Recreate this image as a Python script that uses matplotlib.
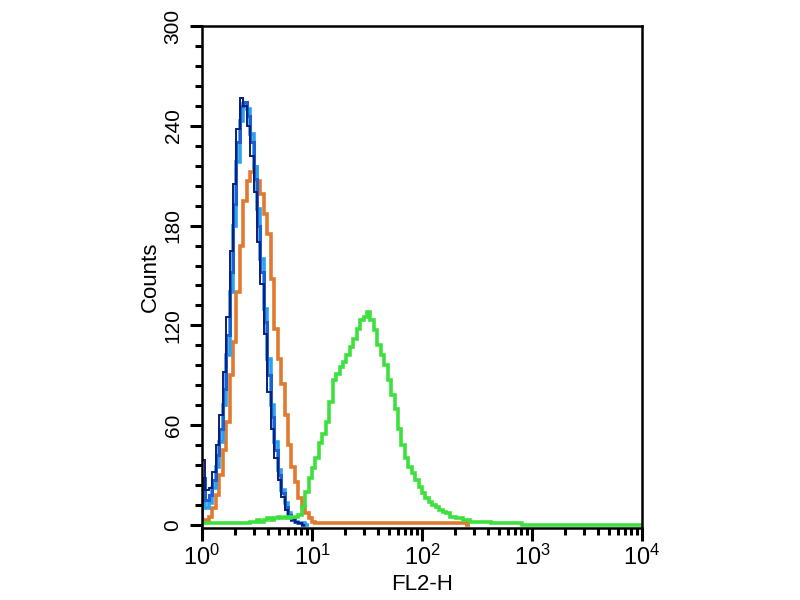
import numpy as np
import matplotlib
matplotlib.use("Agg")
import matplotlib.pyplot as plt
from matplotlib.ticker import LogLocator, MultipleLocator, NullFormatter

plt.rcParams['font.family'] = ['Liberation Sans', 'DejaVu Sans']
plt.rcParams['mathtext.fontset'] = 'custom'
plt.rcParams['mathtext.rm'] = 'Liberation Sans'
plt.rcParams['mathtext.it'] = 'Liberation Sans'

#-----------------------------------------------------------------------------#
# histogram channels: 32 bins per decade, 4 decades (10^0 .. 10^4)
n_bins = 128
edges = 10 ** (np.arange(n_bins + 1) / 32.0)

# counts per channel (channels past each list are empty)
navy = [39, 21, 22, 32, 48, 66, 92, 125, 165, 205, 238, 257, 252, 240, 222, 200,
        170, 145, 115, 80, 58, 40, 27, 17, 9, 5, 3, 2, 1, 0]
royal = [28, 15, 18, 27, 42, 58, 82, 114, 152, 193, 230, 252, 254, 246, 230, 208,
         180, 152, 122, 90, 65, 45, 30, 19, 11, 6, 3, 2, 1, 0]
sky = [14, 10, 13, 22, 35, 50, 72, 102, 140, 180, 218, 243, 253, 250, 235, 215,
       190, 160, 130, 100, 72, 50, 33, 21, 13, 7, 4, 2, 1, 1, 0]
orange = [2, 3, 5, 10, 18, 30, 45, 62, 90, 110, 140, 168, 195, 207, 212, 215,
          207, 199, 187, 175, 148, 118, 100, 85, 66, 48, 35, 26, 16, 11, 7, 4, 2] + [1] * 44 + [0]
green = [1, 1, 1, 1, 1, 1, 1, 1, 1, 1, 1, 1, 1, 1, 2, 2, 3, 2, 3, 4, 3, 4, 5, 4, 5, 4, 5, 5,
         6, 11, 20, 28, 34, 40, 49, 55, 62, 74, 87, 91, 95, 98, 102, 107, 112, 118, 123, 125,
         128, 123, 117, 108, 102, 96, 87, 78, 70, 58, 48, 40, 35, 31, 27, 23, 19, 16, 14, 12,
         11, 9, 8, 7, 5, 5, 4, 4, 3, 3, 2, 2, 2, 2, 2, 2, 1, 1, 1, 1, 1, 1, 1, 1, 1]
green = green + [0] * (n_bins - len(green))

x_ticks = [1, 10, 100, 1000, 10000]
x_labels = [r'$\mathregular{10^{0}}$', r'$\mathregular{10^{1}}$', r'$\mathregular{10^{2}}$',
            r'$\mathregular{10^{3}}$', r'$\mathregular{10^{4}}$']
y_ticks = [0, 60, 120, 180, 240, 300]

def hist(ax, v, **kw):
    ax.stairs(np.array(v, dtype=float), edges[:len(v) + 1], **kw)

#-----------------------------------------------------------------------------#

fig = plt.figure(figsize=(8, 6), dpi=100)
ax = fig.add_axes([0.2525, 0.12, 0.55, 0.8367])

hist(ax, orange, color='#e07a30', lw=2.6)
hist(ax, sky, color='#2aa2ee', lw=2.6)
hist(ax, royal, color='#1f5fd2', lw=2.2)
hist(ax, navy, color='#0c1f78', lw=1.4)
hist(ax, green, color='#3ee03e', lw=2.6)

ax.set_xscale('log')
ax.set_xlim(1, 10000)
ax.set_ylim(-1.8, 300)

ax.set_xticks(x_ticks)
ax.set_xticklabels(x_labels, fontsize=17)
ax.xaxis.set_minor_locator(LogLocator(base=10, subs=np.arange(2, 10)))
ax.xaxis.set_minor_formatter(NullFormatter())

ax.set_yticks(y_ticks)
ax.set_yticklabels([str(v) for v in y_ticks], fontsize=15)
ax.yaxis.set_minor_locator(MultipleLocator(12))
plt.setp(ax.get_yticklabels(), rotation=90, va='center', ha='right')

ax.tick_params(which='major', direction='out', length=9, width=2.2, pad=5)
ax.tick_params(which='minor', direction='out', length=5, width=2.2)
ax.tick_params(axis='x', which='major', pad=3)
for s in ax.spines.values():
    s.set_linewidth(1.8)

ax.set_xlabel('FL2-H', fontsize=16, labelpad=3)
ax.set_ylabel('Counts', fontsize=16, labelpad=2)

fig.savefig('out.png', dpi=100)
